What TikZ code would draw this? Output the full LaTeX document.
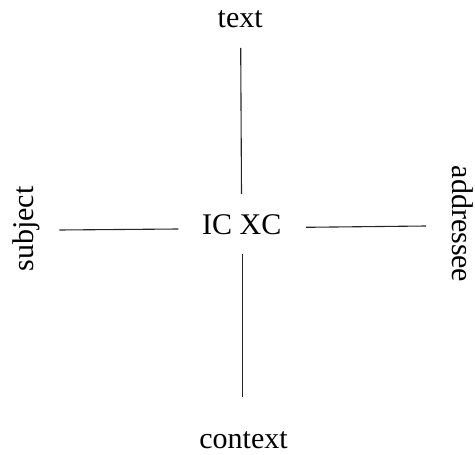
\documentclass[tikz,border=0pt]{standalone}
\usepackage{fontspec}
\setmainfont{Liberation Serif}
\begin{document}
\begin{tikzpicture}[x=0.5pt,y=-0.5pt,
    every node/.style={inner sep=0pt,font=\fontsize{15}{18}\selectfont},
    arm/.style={line width=0.55pt,black!85}]
    \useasboundingbox (0,0) rectangle (475,454);
    \node (txt) at (240.2,19.5) {text};
    \node (icxc) at (241.7,224.5) {IC XC};
    \node (ctx) at (243.5,440.5) {context};
    \node[rotate=90] (subj) at (26,229) {subject};
    \node[rotate=-90] (addr) at (462.5,224) {addressee};
    \coordinate (n1) at (240.7,48);
    \coordinate (n2) at (241.5,194);
    \coordinate (s1) at (242.7,254);
    \coordinate (s2) at (242.7,396.5);
    \coordinate (w1) at (59.3,230);
    \coordinate (w2) at (178.3,229);
    \coordinate (e1) at (306,227.3);
    \coordinate (e2) at (426,226);
    \draw [arm] (n1) to (n2);
    \draw [arm] (s1) to (s2);
    \draw [arm] (w1) to (w2);
    \draw [arm] (e1) to (e2);
\end{tikzpicture}
\end{document}
